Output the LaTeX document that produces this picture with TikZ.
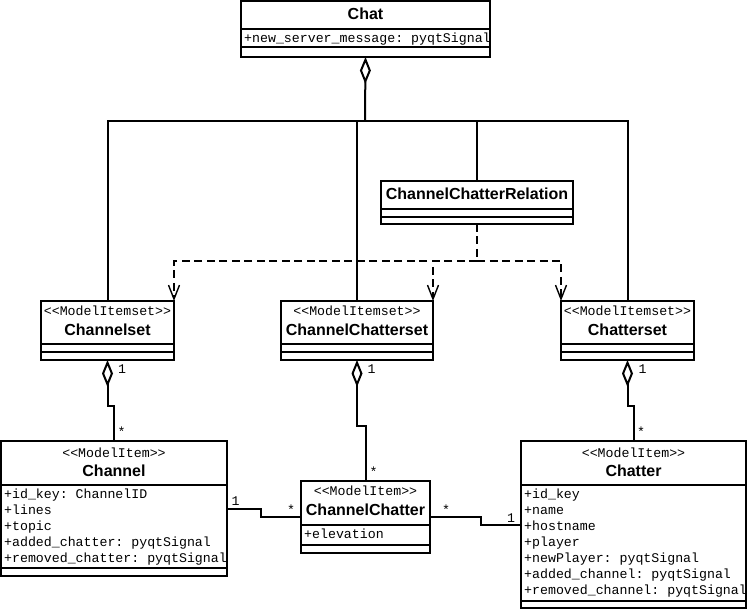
\documentclass[tikz,border=0pt]{standalone}
\usepackage{fontspec}
\setsansfont{Liberation Sans}
\setmonofont{Liberation Mono}
\usetikzlibrary{arrows.meta,calc,positioning}

\tikzset{
  cls/.style 2 args={draw, line width=2pt, anchor=north west, inner sep=0pt,
    outer sep=0pt, minimum width=#1, minimum height=#2},
  cname/.style={font=\sffamily\bfseries\fontsize{16}{19}\selectfont, anchor=base, inner sep=0pt},
  stereo/.style={font=\ttfamily\fontsize{13.25}{16}\selectfont, anchor=base, inner sep=0pt},
  attr/.style={font=\ttfamily\fontsize{13.25}{16}\selectfont, anchor=base west, inner sep=0pt},
  mult/.style={font=\ttfamily\fontsize{13.25}{16}\selectfont, anchor=base, inner sep=0pt},
  link/.style={line width=2pt},
  agg/.style={link, {Diamond[open,length=27pt,width=11pt]}-},
  dep/.style={link, dash pattern=on 8pt off 4.5pt,
    -{Straight Barb[length=14pt,width=11pt,line width=1.4pt]}},
}

\begin{document}
\begin{tikzpicture}[x=1pt,y=-1pt]
\useasboundingbox (0,0) rectangle (747,609);

% classes
\node[cls={249pt}{56pt}] (Chat) at (241,1) {};
\draw[link] (241,29) -- (490,29) (241,47) -- (490,47);
\node[cname] (ChatName) at (365.5,20) {Chat};
\node[attr] (ChatAttr) at (244,43) {+new\_server\_message: pyqtSignal};

\node[cls={192pt}{43pt}] (Relation) at (381,181) {};
\draw[link] (381,209) -- (573,209) (381,217) -- (573,217);
\node[cname] (RelationName) at (477,200) {ChannelChatterRelation};

\node[cls={133pt}{59pt}] (Channelset) at (41,301) {};
\draw[link] (41,344) -- (174,344) (41,352) -- (174,352);
\node[stereo] (ChannelsetStereo) at (107.5,316) {<<ModelItemset>>};
\node[cname] (ChannelsetName) at (107.5,336) {Channelset};

\node[cls={152pt}{59pt}] (ChannelChatterset) at (281,301) {};
\draw[link] (281,344) -- (433,344) (281,352) -- (433,352);
\node[stereo] (ChannelChattersetStereo) at (357,316) {<<ModelItemset>>};
\node[cname] (ChannelChattersetName) at (357,336) {ChannelChatterset};

\node[cls={133pt}{59pt}] (Chatterset) at (561,301) {};
\draw[link] (561,344) -- (694,344) (561,352) -- (694,352);
\node[stereo] (ChattersetStereo) at (627.5,316) {<<ModelItemset>>};
\node[cname] (ChattersetName) at (627.5,336) {Chatterset};

\node[cls={226pt}{135pt}] (Channel) at (1,441) {};
\draw[link] (1,485) -- (227,485) (1,568) -- (227,568);
\node[stereo] (ChannelStereo) at (114,457) {<<ModelItem>>};
\node[cname] (ChannelName) at (114,476) {Channel};
\foreach \a [count=\i from 0] in {+id\_key: ChannelID, +lines, +topic,
    +added\_chatter: pyqtSignal, +removed\_chatter: pyqtSignal}
  \node[attr] (ChannelAttr\i) at (4,498+16*\i) {\a};

\node[cls={129pt}{72pt}] (ChannelChatter) at (301,481) {};
\draw[link] (301,525) -- (430,525) (301,545) -- (430,545);
\node[stereo] (ChannelChatterStereo) at (365.5,495) {<<ModelItem>>};
\node[cname] (ChannelChatterName) at (365.5,515) {ChannelChatter};
\node[attr] (ChannelChatterAttr) at (304,538) {+elevation};

\node[cls={225pt}{167pt}] (Chatter) at (521,441) {};
\draw[link] (521,485) -- (746,485) (521,601) -- (746,601);
\node[stereo] (ChatterStereo) at (633.5,457) {<<ModelItem>>};
\node[cname] (ChatterName) at (633.5,476) {Chatter};
\foreach \a [count=\i from 0] in {+id\_key, +name, +hostname, +player,
    +newPlayer: pyqtSignal, +added\_channel: pyqtSignal, +removed\_channel: pyqtSignal}
  \node[attr] (ChatterAttr\i) at (524,498+16*\i) {\a};

% aggregation to Chat
\coordinate (Bus) at (365,121);
\draw[agg] (Chat.south) -- (Bus);
\draw[link] (Channelset.north) |- (Bus) -| (Chatterset.north);
\draw[link] (ChannelChatterset.north) -- (ChannelChatterset.north |- Bus);
\draw[link] (Relation.north) -- (Relation.north |- Bus);

% dependencies
\coordinate (Fork) at (477,261);
\draw[link, dash pattern=on 8pt off 4.5pt] (Relation.south) -- (Fork);
\draw[dep] (Fork) -| (Channelset.north east);
\draw[dep] (Fork) -| (ChannelChatterset.north east);
\draw[dep] (Fork) -| (Chatterset.north west);

% sets and items
\draw[agg] (Channelset.south) -- ++(0,46) -| (Channel.north);
\draw[agg] (ChannelChatterset.south) -- ++(0,66) -| (ChannelChatter.north);
\draw[agg] (Chatterset.south) -- ++(0,46) -| (Chatter.north);
\draw[link] (Channel.east) -- ++(34,0) |- (ChannelChatter.west);
\draw[link] (ChannelChatter.east) -- ++(51,0) |- (Chatter.west);

% multiplicities
\node[mult] (m1) at (122,373.5) {1};
\node[mult] (m2) at (121.5,436) {*};
\node[mult] (m3) at (371.5,373.5) {1};
\node[mult] (m4) at (373.5,476) {*};
\node[mult] (m5) at (642.5,373.5) {1};
\node[mult] (m6) at (641,436) {*};
\node[mult] (m7) at (235.5,505.5) {1};
\node[mult] (m8) at (291,514.5) {*};
\node[mult] (m9) at (446,514) {*};
\node[mult] (m10) at (511,522) {1};
\end{tikzpicture}
\end{document}
